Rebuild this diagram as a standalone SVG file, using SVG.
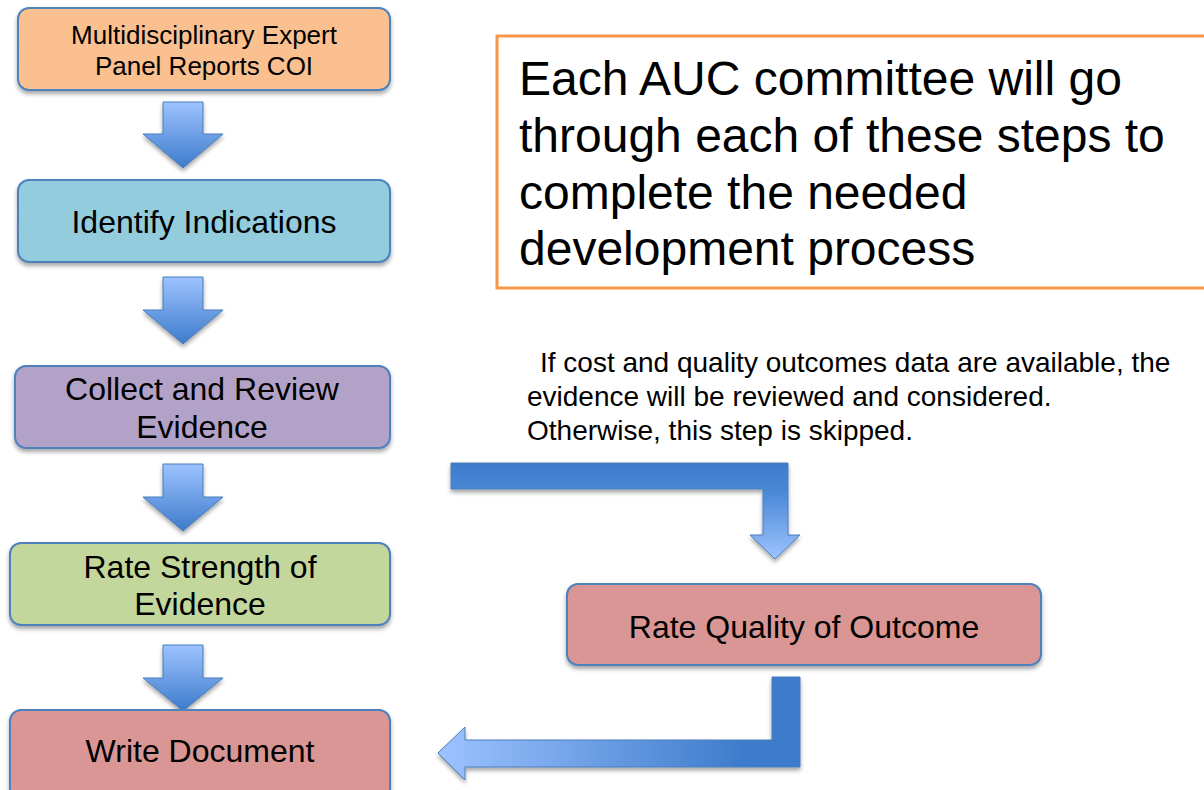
<svg xmlns="http://www.w3.org/2000/svg" width="1204" height="790" viewBox="0 0 1204 790">
<defs>
<style>
.node{stroke:#4F81BD;stroke-width:2;filter:url(#sh)}
.t{font-family:"Liberation Sans",Arial,sans-serif;fill:#000;text-anchor:middle}
.arr{stroke:#4A7EBB;stroke-width:1;filter:url(#sh)}
</style>
<filter id="sh" x="-10%" y="-10%" width="120%" height="130%">
<feDropShadow dx="0" dy="3" stdDeviation="2" flood-color="#000" flood-opacity="0.35"/>
</filter>
<linearGradient id="gd" x1="0" y1="0" x2="0" y2="1">
<stop offset="0" stop-color="#9DC3FF"/>
<stop offset="1" stop-color="#3D7BCB"/>
</linearGradient>
<linearGradient id="gb1" x1="0" y1="0" x2="0" y2="1">
<stop offset="0" stop-color="#3D7BCB"/>
<stop offset="0.3" stop-color="#4A88D6"/>
<stop offset="1" stop-color="#9DC3FF"/>
</linearGradient>
<linearGradient id="gb2" x1="0" y1="0" x2="1" y2="0">
<stop offset="0" stop-color="#9DC3FF"/>
<stop offset="0.85" stop-color="#3D7BCB"/>
<stop offset="1" stop-color="#3D7BCB"/>
</linearGradient>
</defs>
<rect width="1204" height="790" fill="#fff"/>

<g id="connectors">
<path class="arr" fill="url(#gd)" d="M163,102 H203 V134 H223 L183,168 L143,134 H163 Z"/>
<path class="arr" fill="url(#gd)" d="M163,277 H203 V310 H223 L183,344 L143,310 H163 Z"/>
<path class="arr" fill="url(#gd)" d="M163,464 H203 V497 H223 L183,531 L143,497 H163 Z"/>
<path class="arr" fill="url(#gd)" d="M163,645 H203 V678 H223 L183,711 L143,678 H163 Z"/>
<path class="arr" fill="url(#gb1)" d="M451,463 H788 V535 H800 L775,559 L750,535 H763 V489 H451 Z"/>
<path class="arr" fill="url(#gb2)" d="M772,677 H800 V767 H465 V780 L438,753 L465,727 V740 H772 Z"/>
</g>

<g id="n1">
<rect class="node" x="18" y="8" width="372" height="82" rx="11" fill="#FAC090"/>
<text class="t" x="204" y="44" font-size="26">Multidisciplinary Expert</text>
<text class="t" x="204" y="75" font-size="26">Panel Reports COI</text>
</g>
<g id="n2">
<rect class="node" x="18" y="180" width="372" height="82" rx="11" fill="#93CDDD"/>
<text class="t" x="204" y="233" font-size="32">Identify Indications</text>
</g>
<g id="n3">
<rect class="node" x="15" y="366" width="375" height="82" rx="11" fill="#B3A2C7"/>
<text class="t" x="202" y="400" font-size="32">Collect and Review</text>
<text class="t" x="202" y="438" font-size="32">Evidence</text>
</g>
<g id="n4">
<rect class="node" x="10" y="543" width="380" height="82" rx="11" fill="#C3D69B"/>
<text class="t" x="200" y="578" font-size="32">Rate Strength of</text>
<text class="t" x="200" y="615" font-size="32">Evidence</text>
</g>
<g id="n5">
<rect class="node" x="10" y="710" width="380" height="90" rx="11" fill="#D99694"/>
<text class="t" x="200" y="762" font-size="32">Write Document</text>
</g>
<g id="n6">
<rect class="node" x="567" y="584" width="474" height="81" rx="11" fill="#D99694"/>
<text class="t" x="804" y="638" font-size="32">Rate Quality of Outcome</text>
</g>

<g id="note">
<rect x="497" y="36" width="720" height="252" fill="#fff" stroke="#F79646" stroke-width="3"/>
<g font-family="'Liberation Sans',Arial,sans-serif" font-size="48" fill="#000">
<text x="519" y="95">Each AUC committee will go</text>
<text x="519" y="152">through each of these steps to</text>
<text x="519" y="209">complete the needed</text>
<text x="519" y="265">development process</text>
</g>
</g>

<g id="side" font-family="'Liberation Sans',Arial,sans-serif" font-size="28" fill="#000">
<text x="540" y="372">If cost and quality outcomes data are available, the</text>
<text x="527" y="406">evidence will be reviewed and considered.</text>
<text x="527" y="440">Otherwise, this step is skipped.</text>
</g>
</svg>
